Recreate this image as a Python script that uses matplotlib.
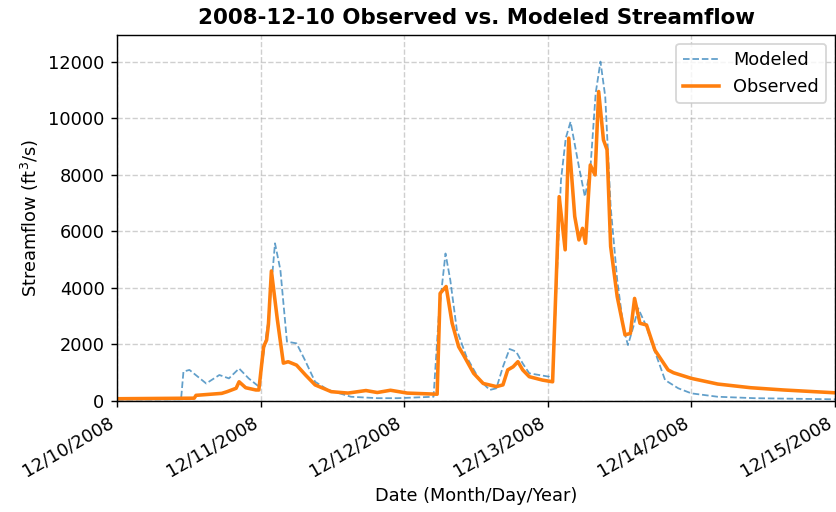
import numpy as np
import pandas as pd
import matplotlib
matplotlib.use('Agg')
import matplotlib.pyplot as plt
import matplotlib.dates as mdates

start = pd.Timestamp('2008-12-10 00:00')
end = pd.Timestamp('2008-12-15 00:00')

# hours after start, flow in ft3/s
obs_hours = [0, 12.9, 13.2, 17.5, 18.4, 19.9, 20.4, 21.5, 23.2, 23.7, 24.5, 25.0, 25.3, 25.8,
             26.8, 27.8, 28.6, 30.0, 31.5, 33.1, 35.8, 38.6, 41.6, 43.5, 45.7, 48.5, 53.5,
             54.0, 55.0, 56.0, 57.1, 57.9, 59.6, 61.2, 63.4, 64.5, 65.3, 66.2, 67.0, 67.8,
             68.9, 71.1, 72.8, 73.9, 74.9, 75.5, 76.5, 77.2, 77.8, 78.3, 79.1, 79.9, 80.5,
             81.3, 81.9, 82.5, 83.6, 84.9, 85.8, 86.5, 87.4, 88.5, 89.9, 91.0, 92.1, 93.0,
             96.0, 100.4, 105.9, 111.4, 120]
obs_flow = [80, 100, 200, 270, 330, 450, 680, 470, 390, 390, 1920, 2160, 2700, 4600,
            2870, 1340, 1390, 1270, 920, 570, 330, 280, 370, 300, 380, 280, 240,
            3810, 4050, 2760, 1920, 1630, 980, 620, 510, 570, 1100, 1210, 1390, 1100,
            860, 740, 680, 7230, 5350, 9300, 6530, 5700, 6110, 5580, 8350, 8000, 10950,
            9240, 8890, 5470, 3690, 2340, 2390, 3630, 2750, 2690, 1800, 1450, 1100, 1000,
            800, 600, 470, 390, 290]

mod_hours = [0, 10.7, 11.1, 12.1, 14.9, 17.1, 18.7, 20.4, 22.0, 23.7, 25.3, 26.4, 27.3,
             28.4, 30.0, 31.4, 33.1, 35.3, 39.1, 43.5, 46.9, 52.9, 53.8, 54.9, 55.7, 56.8,
             58.4, 60.6, 62.3, 63.4, 64.5, 65.6, 66.7, 67.8, 68.9, 72.2, 72.8, 73.3, 74.2,
             75.0, 75.8, 77.2, 78.2, 79.1, 80.0, 80.8, 81.6, 82.5, 83.6, 84.7, 85.4, 86.3,
             87.1, 88.5, 89.3, 91.6, 93.8, 96.0, 100.4, 106.5, 120]
mod_flow = [50, 60, 1040, 1100, 620, 920, 800, 1150, 800, 510, 2870, 5580, 4640,
            2100, 2040, 1450, 680, 390, 150, 100, 100, 150, 3100, 5220, 4280, 2510,
            1570, 740, 390, 450, 1210, 1840, 1750, 1330, 980, 860, 740, 3340, 7820,
            9300, 9880, 8290, 7230, 8180, 10890, 12010, 10770, 6880, 4280, 2510, 1980, 2630,
            3280, 2630, 2100, 740, 450, 270, 150, 100, 60]

obs_time = start + pd.to_timedelta(obs_hours, unit='h')
mod_time = start + pd.to_timedelta(mod_hours, unit='h')

fig, ax = plt.subplots(figsize=(836 / 128, 512 / 128), dpi=128)
fig.subplots_adjust(left=0.14, right=0.9988, top=0.9316, bottom=0.2168)

ax.plot(mod_time, mod_flow, '--', color='tab:blue', lw=1, alpha=0.7, label='Modeled')
ax.plot(obs_time, obs_flow, '-', color='tab:orange', lw=2, label='Observed')

ax.set_xlim(start, end)
ax.set_ylim(0, 12950)
ax.xaxis.set_major_locator(mdates.DayLocator())
ax.xaxis.set_major_formatter(mdates.DateFormatter('%m/%d/%Y'))
for lbl in ax.get_xticklabels():
    lbl.set_rotation(30)
    lbl.set_ha('right')

ax.grid(True, linestyle='--', alpha=0.6)
ax.set_title('2008-12-10 Observed vs. Modeled Streamflow', fontweight='bold')
ax.set_xlabel('Date (Month/Day/Year)')
ax.set_ylabel('Streamflow (ft$^3$/s)')
ax.legend(loc='upper right')

fig.savefig('out.png', dpi=128)
